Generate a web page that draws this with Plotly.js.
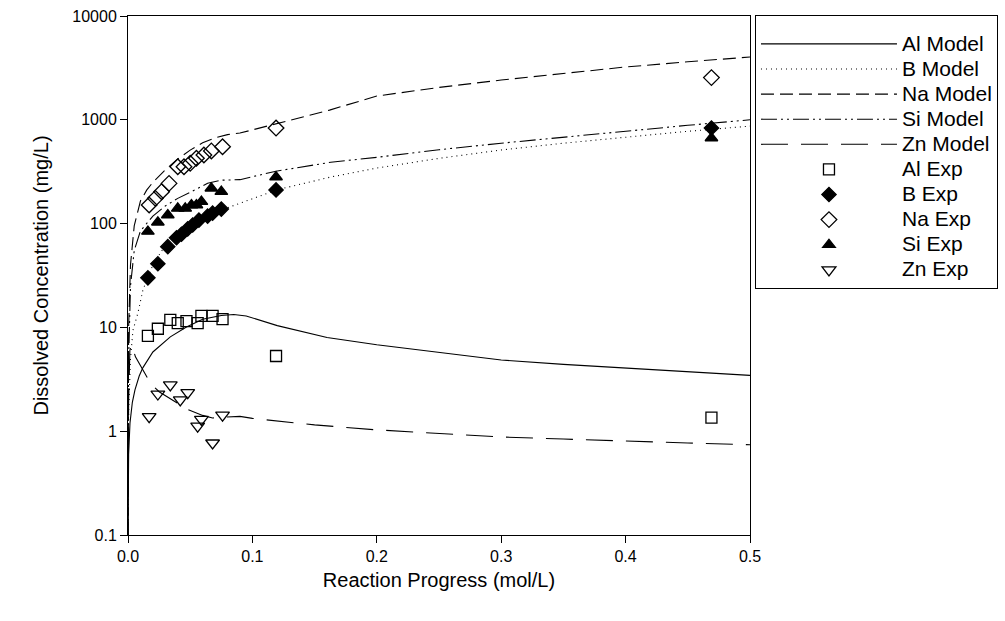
<!DOCTYPE html>
<html>
<head>
<meta charset="utf-8">
<script src="https://cdn.plot.ly/plotly-3.0.1.min.js"></script>
<style>html,body{margin:0;padding:0;background:#fff;}#chart{width:1005px;height:621px;}</style>
</head>
<body>
<div id="chart"></div>
<script>
// ---- Model curves ----
const alModelX = [0, 0.0005, 0.0016, 0.0035, 0.0056, 0.009, 0.012, 0.02, 0.034, 0.047, 0.06, 0.075, 0.085, 0.095, 0.12, 0.16, 0.2, 0.25, 0.3, 0.35, 0.4, 0.45, 0.5];
const alModelY = [0.1, 0.6, 1.2, 1.9, 2.5, 3.4, 4.1, 5.8, 8.1, 10.1, 12.0, 13.0, 13.3, 12.9, 10.4, 8.0, 6.8, 5.7, 4.85, 4.4, 4.05, 3.75, 3.45];

const bModelX = [0, 0.0005, 0.002, 0.004, 0.008, 0.012, 0.02, 0.03, 0.05, 0.07, 0.082, 0.1, 0.12, 0.163, 0.2, 0.25, 0.3, 0.35, 0.4, 0.45, 0.5];
const bModelY = [0.1, 1.5, 5, 9.4, 13.8, 23, 40, 62, 95, 127, 145, 175, 212, 281, 343, 425, 512, 595, 683, 775, 870];

const naModelX = [0, 0.0005, 0.002, 0.005, 0.01, 0.015, 0.02, 0.03, 0.04, 0.05, 0.06, 0.07, 0.08, 0.09, 0.1, 0.12, 0.162, 0.2, 0.25, 0.3, 0.35, 0.4, 0.45, 0.5];
const naModelY = [0.1, 10, 40, 95, 165, 210, 250, 330, 420, 510, 600, 670, 720, 745, 800, 925, 1240, 1695, 2050, 2415, 2800, 3228, 3620, 4027];

const siModelX = [0, 0.0005, 0.002, 0.005, 0.01, 0.02, 0.03, 0.04, 0.05, 0.064, 0.075, 0.09, 0.119, 0.163, 0.2, 0.25, 0.3, 0.35, 0.4, 0.45, 0.5];
const siModelY = [0.1, 5, 25, 55, 85, 118, 148, 175, 200, 245, 262, 265, 320, 390, 435, 515, 595, 680, 780, 885, 1000];

const znModelX = [0, 0.0005, 0.0015, 0.003, 0.006, 0.012, 0.018, 0.025, 0.04, 0.047, 0.06, 0.068, 0.078, 0.09, 0.1, 0.15, 0.2, 0.25, 0.3, 0.35, 0.4, 0.45, 0.5];
const znModelY = [0.1, 2, 6, 6.8, 5.2, 3.9, 2.9, 2.4, 1.87, 1.64, 1.42, 1.34, 1.37, 1.39, 1.33, 1.15, 1.03, 0.95, 0.88, 0.84, 0.80, 0.77, 0.74];

// ---- Experimental data ----
const alExpX = [0.016, 0.024, 0.034, 0.040, 0.047, 0.056, 0.059, 0.068, 0.076, 0.119, 0.469];
const alExpY = [8.3, 9.7, 11.8, 11.0, 11.5, 11.0, 12.9, 12.9, 12.0, 5.3, 1.35];

const bExpX = [0.016, 0.024, 0.032, 0.039, 0.043, 0.048, 0.052, 0.057, 0.064, 0.068, 0.075, 0.119, 0.469];
const bExpY = [30, 41, 60, 73, 79, 89, 97, 108, 118, 126, 138, 211, 834];

const naExpX = [0.017, 0.022, 0.027, 0.033, 0.040, 0.045, 0.050, 0.055, 0.061, 0.067, 0.076, 0.119, 0.469];
const naExpY = [151, 175, 203, 244, 353, 353, 381, 426, 458, 501, 550, 833, 2550];

const siExpX = [0.016, 0.024, 0.032, 0.040, 0.046, 0.051, 0.055, 0.059, 0.067, 0.075, 0.119, 0.469];
const siExpY = [84, 103, 121, 140, 140, 151, 151, 163, 219, 203, 281, 668];

const znExpX = [0.017, 0.024, 0.034, 0.042, 0.048, 0.056, 0.059, 0.068, 0.076];
const znExpY = [1.38, 2.28, 2.79, 2.0, 2.35, 1.12, 1.30, 0.77, 1.43];

const seriesNames = ["Al Model", "B Model", "Na Model", "Si Model", "Zn Model", "Al Exp", "B Exp", "Na Exp", "Si Exp", "Zn Exp"];

const xTickVals = [0, 0.1, 0.2, 0.3, 0.4, 0.5];
const xTickText = ["0.0", "0.1", "0.2", "0.3", "0.4", "0.5"];
const yTickVals = [0.1, 1, 10, 100, 1000, 10000];
const yTickText = ["0.1", "1", "10", "100", "1000", "10000"];

const FONT = "Arial, 'Liberation Sans', sans-serif";
const legendName = (n) => '<span style="font-size:21px">' + n + '</span>';
const lineTrace = (name, x, y, dash) => ({
  type: 'scatter', mode: 'lines', name: legendName(name), x, y,
  line: {color: '#000', width: 1.1, dash}
});
const markTrace = (name, x, y, symbol, size) => ({
  type: 'scatter', mode: 'markers', name: legendName(name), x, y,
  marker: {symbol, size, color: '#000', line: {color: '#000', width: 1.3}}
});

const data = [
  lineTrace(seriesNames[0], alModelX, alModelY, 'solid'),
  lineTrace(seriesNames[1], bModelX, bModelY, '1px,4px'),
  lineTrace(seriesNames[2], naModelX, naModelY, '13px,6px'),
  lineTrace(seriesNames[3], siModelX, siModelY, '16px,4px,2px,4px,2px,4px'),
  lineTrace(seriesNames[4], znModelX, znModelY, '27px,13px'),
  markTrace(seriesNames[5], alExpX, alExpY, 'square-open', 11),
  markTrace(seriesNames[6], bExpX, bExpY, 'diamond', 11),
  markTrace(seriesNames[7], naExpX, naExpY, 'diamond-open', 12),
  markTrace(seriesNames[8], siExpX, siExpY, 'triangle-up', 11),
  markTrace(seriesNames[9], znExpX, znExpY, 'triangle-down-open', 12)
];

const layout = {
  width: 1005, height: 621,
  margin: {l: 128, r: 255, t: 16, b: 86, autoexpand: false},
  paper_bgcolor: '#fff', plot_bgcolor: '#fff',
  font: {family: FONT, color: '#000', size: 16},
  showlegend: true,
  legend: {
    x: 1.008, y: 1.002, xanchor: 'left', yanchor: 'top',
    bordercolor: '#000', borderwidth: 1, bgcolor: '#fff',
    font: {family: FONT, size: 17, color: '#000'},
    title: {text: ' ', font: {size: 8}},
    itemwidth: 136, tracegroupgap: 0
  },
  xaxis: {
    range: [0, 0.5], tickvals: xTickVals, ticktext: xTickText,
    ticks: 'outside', ticklen: 7, tickcolor: '#000', tickwidth: 1,
    showline: true, linecolor: '#000', linewidth: 1, mirror: true,
    showgrid: false, zeroline: false,
    tickfont: {size: 16},
    title: {text: 'Reaction Progress (mol/L)', font: {size: 20}, standoff: 8}
  },
  yaxis: {
    type: 'log', range: [-1, 4], tickvals: yTickVals, ticktext: yTickText,
    ticks: 'outside', ticklen: 7, tickcolor: '#000', tickwidth: 1,
    showline: true, linecolor: '#000', linewidth: 1, mirror: true,
    showgrid: false, zeroline: false,
    tickfont: {size: 16},
    title: {text: 'Dissolved Concentration (mg/L)', font: {size: 20}, standoff: 18}
  }
};

Plotly.newPlot('chart', data, layout, {staticPlot: true, displayModeBar: false});
</script>
</body>
</html>
